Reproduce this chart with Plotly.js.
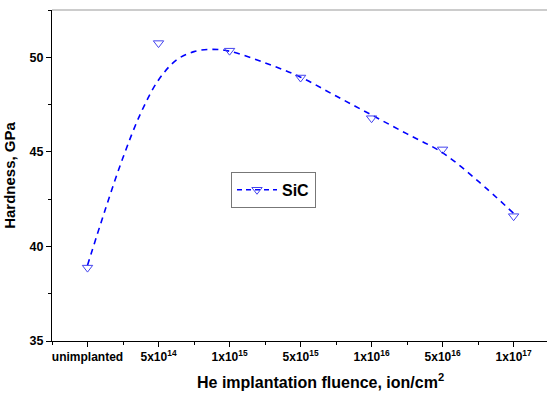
<!DOCTYPE html>
<html>
<head>
<meta charset="utf-8">
<script src="https://cdn.plot.ly/plotly-3.0.1.min.js"></script>
<style>html,body{margin:0;padding:0;background:#fff;}#chart{width:547px;height:394px;}</style>
</head>
<body>
<div id="chart"></div>
<script>
// Categories and measured hardness
var categories = ["unimplanted", "5x10<sup>14</sup>", "1x10<sup>15</sup>", "5x10<sup>15</sup>", "1x10<sup>16</sup>", "5x10<sup>16</sup>", "1x10<sup>17</sup>"];
var hardness = [38.88, 50.75, 50.35, 48.93, 46.78, 45.13, 41.6];
// Smoothed guide curve (category position, GPa)
var curvePos = [0, 0.25, 0.5, 0.75, 1, 1.25, 1.5, 1.75, 2, 2.5, 3, 3.5, 4, 4.5, 5, 5.5, 6];
var curveVal = [39.0, 41.95, 44.7, 47.05, 48.8, 49.85, 50.3, 50.42, 50.32, 49.7, 48.95, 47.95, 46.95, 45.95, 44.95, 43.45, 41.75];

var catPos = categories.map(function(_, i){ return i; });

var traces = [
  {x: curvePos, y: curveVal, mode: 'lines', line: {color: '#0000ff', dash: '6px,5px', width: 1.6, shape: 'spline', smoothing: 1}, showlegend: false, hoverinfo: 'skip'},
  {x: catPos, y: hardness, mode: 'markers', marker: {symbol: 'triangle-down-open', size: 9, color: '#4444ee', line: {width: 1}}, showlegend: false},
  {x: [null], y: [null], mode: 'lines+markers', name: 'SiC', line: {color: '#0000ff', dash: '5px,4px', width: 1.6}, marker: {symbol: 'triangle-down-open', size: 9, color: '#4444ee'}}
];

var layout = {
  width: 547, height: 394,
  margin: {l: 52, r: 0, t: 10, b: 53},
  paper_bgcolor: '#fff', plot_bgcolor: '#fff',
  font: {family: 'Liberation Sans, Arial, sans-serif', color: '#000'},
  xaxis: {
    range: [-0.5, 6.47], tickmode: 'array', tickvals: catPos, ticktext: categories,
    showgrid: false, zeroline: false, showline: true, linecolor: '#000', linewidth: 1, mirror: false,
    ticks: 'outside', ticklen: 5, tickcolor: '#000',
    minor: {tickmode: 'linear', tick0: 0.5, dtick: 1, ticks: 'outside', ticklen: 3, tickcolor: '#000', showgrid: false},
    tickfont: {size: 12, weight: 'bold'}
  },
  yaxis: {
    range: [35, 52.5], tickmode: 'linear', tick0: 35, dtick: 5,
    showgrid: false, zeroline: false, showline: true, linecolor: '#000', linewidth: 1, mirror: false,
    ticks: 'outside', ticklen: 5, tickcolor: '#000',
    minor: {tickmode: 'linear', tick0: 37.5, dtick: 5, ticks: 'outside', ticklen: 3, tickcolor: '#000', showgrid: false},
    tickfont: {size: 12.5, weight: 'bold'},
    title: {text: 'Hardness, GPa', font: {size: 15, weight: 'bold'}, standoff: 10}
  },
  shapes: [
    {type: 'line', xref: 'paper', yref: 'paper', x0: 0, x1: 1, y0: 1, y1: 1, line: {color: '#999', width: 1}}
  ],
  annotations: [
    {text: 'He implantation fluence, ion/cm<sup>2</sup>', xref: 'paper', yref: 'paper', x: 0.543, y: -0.122,
     xanchor: 'center', yanchor: 'middle', showarrow: false, font: {size: 16, weight: 'bold'}}
  ],
  legend: {x: 0.3616, y: 0.511, xanchor: 'left', yanchor: 'top', bordercolor: '#777', borderwidth: 1, bgcolor: '#fff',
           itemwidth: 40, font: {size: 16, weight: 'bold'}},
  showlegend: true
};

Plotly.newPlot('chart', traces, layout, {displayModeBar: false, staticPlot: true});
</script>
</body>
</html>
